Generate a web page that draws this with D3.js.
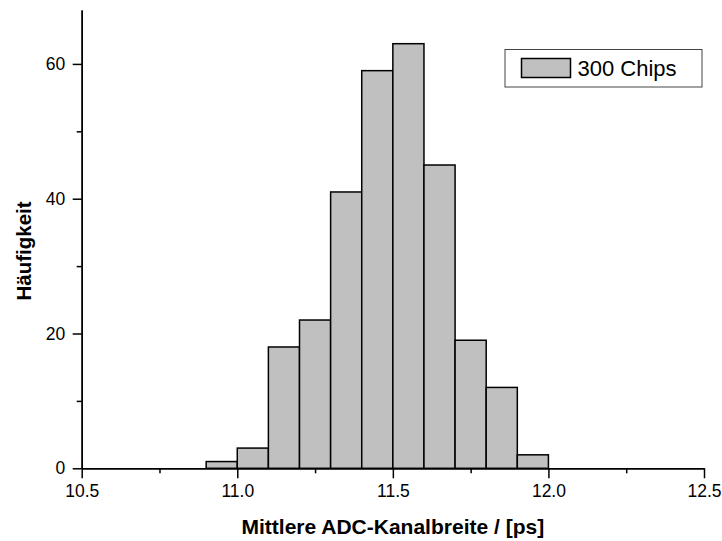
<!DOCTYPE html>
<html>
<head>
<meta charset="utf-8">
<script src="https://cdn.jsdelivr.net/npm/d3@7"></script>
<style>
  body { margin: 0; background: #fff; }
  svg { display: block; font-family: "Liberation Sans", Arial, sans-serif; }
</style>
</head>
<body>
<div id="chart"></div>
<script>
// histogram data (bin lower edges, width 0.1 ps)
var binStarts = [10.9, 11.0, 11.1, 11.2, 11.3, 11.4, 11.5, 11.6, 11.7, 11.8, 11.9];
var counts = [1, 3, 18, 22, 41, 59, 63, 45, 19, 12, 2];
var binWidth = 0.1;
var xTicks = [10.5, 11.0, 11.5, 12.0, 12.5];
var xMinorTicks = [10.75, 11.25, 11.75, 12.25];
var yTicks = [0, 20, 40, 60];
var yMinorTicks = [10, 30, 50];
var legendLabel = "300 Chips";

//svg dims
var width = 722;
var height = 541;

var svg = d3.select("#chart")
            .append("svg")
            .attr("width", width)
            .attr("height", height);

//scales
var xScale = d3.scaleLinear()
               .domain([10.5, 12.5])
               .range([81.7, 704]);
var yScale = d3.scaleLinear()
               .domain([0, 68])
               .range([468.3, 10]);

//bars
var data = binStarts.map((d, i) => ({x0: d, x1: d + binWidth, n: counts[i]}));
svg.append("g")
   .selectAll("rect")
   .data(data)
   .enter()
   .append("rect")
   .attr("x", d => xScale(d.x0))
   .attr("y", d => yScale(d.n))
   .attr("width", d => xScale(d.x1) - xScale(d.x0))
   .attr("height", d => yScale(0) - yScale(d.n))
   .attr("fill", "#c0c0c0")
   .attr("stroke", "#000")
   .attr("stroke-width", 1.5);

//axes
var xAxis = d3.axisBottom(xScale)
              .tickValues(xTicks)
              .tickFormat(d3.format(".1f"))
              .tickSize(10)
              .tickSizeOuter(0)
              .tickPadding(6);
var xMinor = d3.axisBottom(xScale)
               .tickValues(xMinorTicks)
               .tickFormat("")
               .tickSize(5)
               .tickSizeOuter(0);
var yAxis = d3.axisLeft(yScale)
              .tickValues(yTicks)
              .tickFormat(d3.format("d"))
              .tickSize(9)
              .tickSizeOuter(0)
              .tickPadding(7.5);
var yMinor = d3.axisLeft(yScale)
               .tickValues(yMinorTicks)
               .tickFormat("")
               .tickSize(5)
               .tickSizeOuter(0);

function styleAxis(g) {
  g.selectAll("path, line").attr("stroke", "#000").attr("stroke-width", 1.5);
  g.selectAll("text").attr("font-size", "17.5px").attr("fill", "#000")
   .attr("font-family", "'Liberation Sans', Arial, sans-serif");
}

svg.append("g").attr("transform", `translate(0, ${yScale(0)})`).call(xMinor).call(styleAxis);
svg.append("g").attr("transform", `translate(0, ${yScale(0)})`).call(xAxis).call(styleAxis);
svg.append("g").attr("transform", `translate(${xScale(10.5)}, 0)`).call(yMinor).call(styleAxis);
svg.append("g").attr("transform", `translate(${xScale(10.5)}, 0)`).call(yAxis).call(styleAxis);

//axis titles
svg.append("text")
   .attr("x", (xScale(10.5) + xScale(12.5)) / 2)
   .attr("y", 534)
   .attr("text-anchor", "middle")
   .attr("font-size", "21px")
   .attr("font-weight", "bold")
   .text("Mittlere ADC-Kanalbreite / [ps]");
svg.append("text")
   .attr("transform", "translate(31, 251) rotate(-90)")
   .attr("text-anchor", "middle")
   .attr("font-size", "20.5px")
   .attr("font-weight", "bold")
   .text("Häufigkeit");

//legend
var legend = svg.append("g").attr("transform", "translate(505, 49.5)");
legend.append("rect")
      .attr("width", 197)
      .attr("height", 37.5)
      .attr("fill", "#fff")
      .attr("stroke", "#444")
      .attr("stroke-width", 1);
legend.append("rect")
      .attr("x", 16.5)
      .attr("y", 9)
      .attr("width", 49)
      .attr("height", 19)
      .attr("fill", "#c0c0c0")
      .attr("stroke", "#000")
      .attr("stroke-width", 1.5);
legend.append("text")
      .attr("x", 72.5)
      .attr("y", 26.5)
      .attr("font-size", "22px")
      .text(legendLabel);
</script>
</body>
</html>
